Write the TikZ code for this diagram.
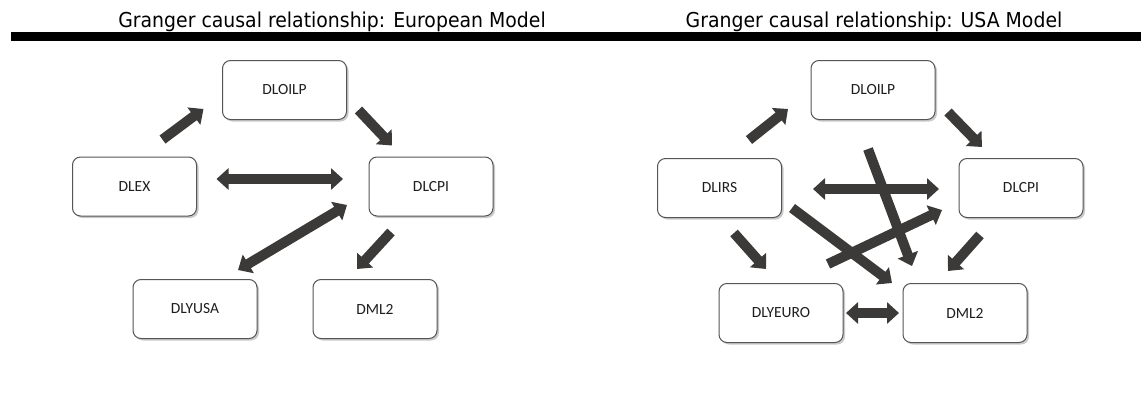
\documentclass[tikz,border=0pt]{standalone}
\usepackage{fontspec}
\usetikzlibrary{arrows.meta,shadows,calc}
\newfontfamily\boxfont{Carlito}
\newfontfamily\titlefont[FakeStretch=0.92]{DejaVu Sans}
\definecolor{arrowcol}{RGB}{60,58,56}
\definecolor{boxline}{RGB}{85,85,85}
\definecolor{txtcol}{RGB}{30,30,30}
\begin{document}
\begin{tikzpicture}[x=1pt,y=-1pt,
  box/.style={draw=boxline, line width=1pt, rounded corners=8pt, fill=white,
    minimum width=124pt, minimum height=59pt, inner sep=0pt, text=txtcol,
    font=\boxfont\fontsize{15.5}{18}\selectfont,
    drop shadow={shadow xshift=2pt, shadow yshift=-2pt, opacity=0.35, fill=black!60}},
  title/.style={anchor=base, inner sep=0pt, font=\titlefont\fontsize{20.5}{24}\selectfont, text=black},
  one/.style={draw=arrowcol, line width=10pt, -{Triangle[length=12pt,width=21pt]}},
  two/.style={draw=arrowcol, line width=10pt, {Triangle[length=12pt,width=21pt]}-{Triangle[length=12pt,width=21pt]}}
]
\useasboundingbox (0,0) rectangle (1141,399);
\fill[white] (0,0) rectangle (1141,399);

% titles and bar
\node[title] (t1) at (332,27) {Granger causal relationship: European Model};
\node[title] (t2) at (874,27) {Granger causal relationship: USA Model};
\fill[black] (11,32) rectangle (1141,41);

% left diagram
\node[box] (loil) at (284.5,90) {DLOILP};
\node[box] (lex) at (134.5,186.5) {DLEX};
\node[box] (lcpi) at (431,186.5) {DLCPI};
\node[box] (lyusa) at (195,309) {DLYUSA};
\node[box] (lml2) at (375,309) {DML2};

\draw[one] ($(lex)+(28,-47)$) -- ($(loil)+(-81,19)$);
\draw[one] ($(loil)+(74,20)$) -- ($(lcpi)+(-39,-41)$);
\draw[two] ($(lex)+(82,-7.5)$) -- ($(lcpi)+(-88,-7.5)$);
\draw[two] ($(lcpi)+(-84,18.5)$) -- ($(lyusa)+(43,-39)$);
\draw[one] ($(lcpi)+(-40,45.5)$) -- ($(lml2)+(-18,-40)$);

% right diagram
\node[box] (roil) at (873,90) {DLOILP};
\node[box] (rirs) at (719.5,188) {DLIRS};
\node[box] (rcpi) at (1021,188) {DLCPI};
\node[box] (ryeuro) at (781,313) {DLYEURO};
\node[box] (rml2) at (965,313) {DML2};

\draw[one] ($(rirs)+(29.5,-48)$) -- ($(roil)+(-85,19)$);
\draw[one] ($(roil)+(75,22)$) -- ($(rcpi)+(-39,-41)$);
\draw[two] ($(rirs)+(93.5,1)$) -- ($(rcpi)+(-82,1)$);
\draw[one] ($(roil)+(-5,59)$) -- ($(rml2)+(-53,-47)$);
\draw[one] ($(rirs)+(72.5,20)$) -- ($(rml2)+(-73,-30)$);
\draw[one] ($(ryeuro)+(47,-49)$) -- ($(rcpi)+(-79,22)$);
\draw[one] ($(rirs)+(14.5,45)$) -- ($(ryeuro)+(-15,-44)$);
\draw[one] ($(rcpi)+(-41,47)$) -- ($(rml2)+(-17,-42)$);
\draw[two] ($(ryeuro)+(65,0)$) -- ($(rml2)+(-66,0)$);
\end{tikzpicture}
\end{document}
